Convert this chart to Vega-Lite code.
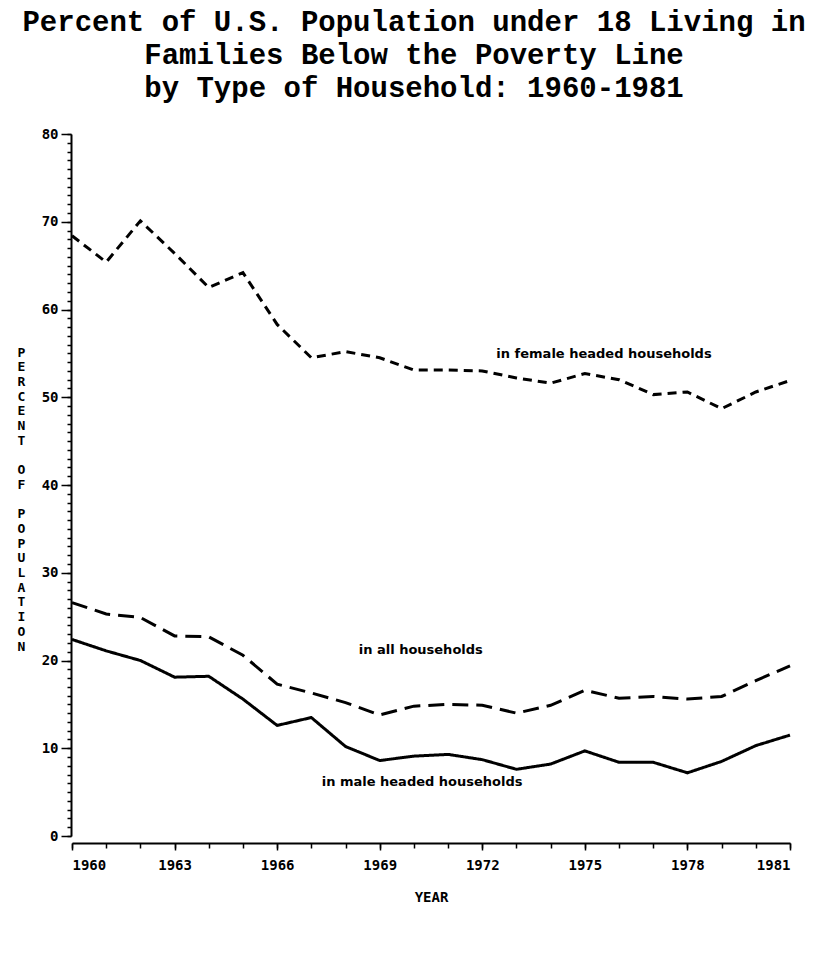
{
  "$schema": "https://vega.github.io/schema/vega-lite/v6.json",
  "autosize": {"type": "none"},
  "width": 718,
  "height": 702,
  "padding": {"left": 72, "top": 134, "right": 32, "bottom": 137},
  "background": "white",
  "title": {
    "text": ["Percent of U.S. Population under 18 Living in", "Families Below the Poverty Line", "by Type of Household: 1960-1981"],
    "font": "Liberation Mono",
    "fontSize": 29,
    "fontWeight": "bold",
    "lineHeight": 33,
    "color": "black",
    "anchor": "middle",
    "dx": -17,
    "offset": 24
  },
  "config": {
    "view": {"stroke": null},
    "axis": {"grid": false, "domainColor": "black", "tickColor": "black", "labelColor": "black", "titleColor": "black", "domainWidth": 2, "tickWidth": 1.5}
  },
  "resolve": {"axis": {"x": "independent", "y": "independent"}},
  "datasets": {
    "series": [
      {"year": 1960, "series": "female", "value": 68.4},
      {"year": 1961, "series": "female", "value": 65.4},
      {"year": 1962, "series": "female", "value": 70.1},
      {"year": 1963, "series": "female", "value": 66.4},
      {"year": 1964, "series": "female", "value": 62.5},
      {"year": 1965, "series": "female", "value": 64.2},
      {"year": 1966, "series": "female", "value": 58.3},
      {"year": 1967, "series": "female", "value": 54.5},
      {"year": 1968, "series": "female", "value": 55.2},
      {"year": 1969, "series": "female", "value": 54.5},
      {"year": 1970, "series": "female", "value": 53.1},
      {"year": 1971, "series": "female", "value": 53.1},
      {"year": 1972, "series": "female", "value": 53.0},
      {"year": 1973, "series": "female", "value": 52.2},
      {"year": 1974, "series": "female", "value": 51.6},
      {"year": 1975, "series": "female", "value": 52.7},
      {"year": 1976, "series": "female", "value": 52.0},
      {"year": 1977, "series": "female", "value": 50.3},
      {"year": 1978, "series": "female", "value": 50.6},
      {"year": 1979, "series": "female", "value": 48.7},
      {"year": 1980, "series": "female", "value": 50.6},
      {"year": 1981, "series": "female", "value": 51.9},
      {"year": 1960, "series": "all", "value": 26.6},
      {"year": 1961, "series": "all", "value": 25.3},
      {"year": 1962, "series": "all", "value": 24.9},
      {"year": 1963, "series": "all", "value": 22.8},
      {"year": 1964, "series": "all", "value": 22.7},
      {"year": 1965, "series": "all", "value": 20.6},
      {"year": 1966, "series": "all", "value": 17.3},
      {"year": 1967, "series": "all", "value": 16.3},
      {"year": 1968, "series": "all", "value": 15.2},
      {"year": 1969, "series": "all", "value": 13.8},
      {"year": 1970, "series": "all", "value": 14.8},
      {"year": 1971, "series": "all", "value": 15.0},
      {"year": 1972, "series": "all", "value": 14.9},
      {"year": 1973, "series": "all", "value": 14.0},
      {"year": 1974, "series": "all", "value": 14.9},
      {"year": 1975, "series": "all", "value": 16.6},
      {"year": 1976, "series": "all", "value": 15.7},
      {"year": 1977, "series": "all", "value": 15.9},
      {"year": 1978, "series": "all", "value": 15.6},
      {"year": 1979, "series": "all", "value": 15.9},
      {"year": 1980, "series": "all", "value": 17.7},
      {"year": 1981, "series": "all", "value": 19.4},
      {"year": 1960, "series": "male", "value": 22.4},
      {"year": 1961, "series": "male", "value": 21.1},
      {"year": 1962, "series": "male", "value": 20.0},
      {"year": 1963, "series": "male", "value": 18.1},
      {"year": 1964, "series": "male", "value": 18.2},
      {"year": 1965, "series": "male", "value": 15.6},
      {"year": 1966, "series": "male", "value": 12.6},
      {"year": 1967, "series": "male", "value": 13.5},
      {"year": 1968, "series": "male", "value": 10.2},
      {"year": 1969, "series": "male", "value": 8.6},
      {"year": 1970, "series": "male", "value": 9.1},
      {"year": 1971, "series": "male", "value": 9.3},
      {"year": 1972, "series": "male", "value": 8.7},
      {"year": 1973, "series": "male", "value": 7.6},
      {"year": 1974, "series": "male", "value": 8.2},
      {"year": 1975, "series": "male", "value": 9.7},
      {"year": 1976, "series": "male", "value": 8.4},
      {"year": 1977, "series": "male", "value": 8.4},
      {"year": 1978, "series": "male", "value": 7.2},
      {"year": 1979, "series": "male", "value": 8.5},
      {"year": 1980, "series": "male", "value": 10.3},
      {"year": 1981, "series": "male", "value": 11.5}
    ],
    "labels": [
      {"year": 1975.56, "value": 54.95, "text": "in female headed households"},
      {"year": 1970.2, "value": 21.24, "text": "in all households"},
      {"year": 1970.24, "value": 6.1, "text": "in male headed households"}
    ]
  },
  "layer": [
    {
      "data": {"name": "series"},
      "mark": {"type": "line", "color": "black", "strokeWidth": 3, "strokeCap": "butt"},
      "encoding": {
        "x": {
          "field": "year", "type": "quantitative",
          "scale": {"domain": [1960, 1981], "nice": false, "zero": false},
          "axis": {
            "orient": "bottom",
            "title": "YEAR",
            "titleFont": "DejaVu Sans Mono", "titleFontSize": 14, "titleFontWeight": "bold", "titlePadding": 18,
            "values": [1960, 1963, 1966, 1969, 1972, 1975, 1978, 1981],
            "format": "d",
            "labelOverlap": false,
            "labelFont": "DejaVu Sans Mono", "labelFontSize": 14, "labelFontWeight": "bold",
            "labelPadding": 8,
            "tickSize": 7,
            "offset": 7
          }
        },
        "y": {
          "field": "value", "type": "quantitative",
          "scale": {"domain": [0, 80], "nice": false},
          "axis": {
            "orient": "left",
            "title": ["P","E","R","C","E","N","T","\u2800","O","F","\u2800","P","O","P","U","L","A","T","I","O","N"],
            "titleAngle": 0,
            "titleAlign": "center",
            "titleBaseline": "top",
            "titleX": -50,
            "titleY": 212,
            "titleLineHeight": 14.7,
            "titleFont": "DejaVu Sans Mono", "titleFontSize": 13, "titleFontWeight": "bold",
            "values": [0, 10, 20, 30, 40, 50, 60, 70, 80],
            "labelOverlap": false,
            "labelFont": "DejaVu Sans Mono", "labelFontSize": 14, "labelFontWeight": "bold",
            "labelPadding": 3,
            "tickSize": 10,
            "offset": 1
          }
        },
        "detail": {"field": "series", "type": "nominal"},
        "strokeDash": {
          "field": "series", "type": "nominal",
          "scale": {"domain": ["female", "all", "male"], "range": [[9, 6], [16, 8], [1, 0]]},
          "legend": null
        }
      }
    },
    {
      "data": {"name": "labels"},
      "mark": {"type": "text", "font": "DejaVu Sans", "fontSize": 13, "fontWeight": "bold", "color": "black", "baseline": "middle", "align": "center"},
      "encoding": {
        "x": {
          "field": "year", "type": "quantitative",
          "axis": {
            "orient": "bottom",
            "title": null,
            "labels": false,
            "domain": false,
            "values": [1960,1961,1962,1963,1964,1965,1966,1967,1968,1969,1970,1971,1972,1973,1974,1975,1976,1977,1978,1979,1980,1981],
            "tickSize": 5,
            "offset": 7
          }
        },
        "y": {
          "field": "value", "type": "quantitative",
          "axis": {
            "orient": "left",
            "title": null,
            "labels": false,
            "domain": false,
            "values": [0,1,2,3,4,5,6,7,8,9,10,11,12,13,14,15,16,17,18,19,20,21,22,23,24,25,26,27,28,29,30,31,32,33,34,35,36,37,38,39,40,41,42,43,44,45,46,47,48,49,50,51,52,53,54,55,56,57,58,59,60,61,62,63,64,65,66,67,68,69,70,71,72,73,74,75,76,77,78,79,80],
            "tickSize": 4,
            "offset": 1
          }
        },
        "text": {"field": "text"}
      }
    }
  ]
}
